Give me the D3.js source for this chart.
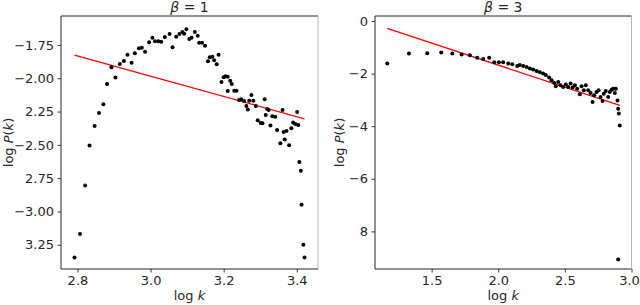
<!DOCTYPE html>
<html>
<head>
<meta charset="utf-8">
<script src="https://cdn.jsdelivr.net/npm/d3@7/dist/d3.min.js"></script>
<style>
  body { margin: 0; background: #fff; }
  text { font-family: "DejaVu Sans", sans-serif; fill: #262626; }
</style>
</head>
<body>
<svg id="chart"></svg>
<script>
// beta = 1 panel: log k, log P(k)
const logK1 = [2.792, 2.807, 2.821, 2.833, 2.847, 2.859, 2.871, 2.881, 2.893, 2.904,
  2.916, 2.927, 2.937, 2.948, 2.957, 2.968, 2.976, 2.985, 2.996, 3.005,
  3.012, 3.021, 3.029, 3.039, 3.052, 3.060, 3.070, 3.079, 3.087, 3.092,
  3.098, 3.106, 3.112, 3.121, 3.129, 3.133, 3.141, 3.149, 3.157, 3.162,
  3.169, 3.174, 3.181, 3.186, 3.194, 3.200, 3.205, 3.211, 3.211, 3.218,
  3.222, 3.229, 3.235, 3.242, 3.248, 3.256, 3.262, 3.266, 3.270, 3.276,
  3.281, 3.288, 3.293, 3.301, 3.306, 3.312, 3.315, 3.319, 3.323, 3.328,
  3.333, 3.341, 3.346, 3.355, 3.361, 3.364, 3.367, 3.372, 3.379, 3.385,
  3.390, 3.396, 3.401, 3.404, 3.407, 3.411, 3.413, 3.418, 3.421];
const logP1 = [-3.345, -3.170, -2.805, -2.505, -2.358, -2.260, -2.195, -2.043, -1.917, -1.995,
  -1.893, -1.870, -1.823, -1.883, -1.812, -1.775, -1.770, -1.800, -1.730, -1.695,
  -1.722, -1.722, -1.725, -1.690, -1.668, -1.767, -1.688, -1.668, -1.652, -1.665,
  -1.632, -1.705, -1.695, -1.652, -1.680, -1.733, -1.733, -1.755, -1.872, -1.842,
  -1.838, -1.865, -1.895, -1.823, -2.028, -1.992, -1.985, -1.988, -2.095, -2.018,
  -2.043, -2.093, -2.093, -2.163, -2.157, -2.170, -2.208, -2.235, -2.168, -2.125,
  -2.168, -2.208, -2.315, -2.335, -2.337, -2.157, -2.275, -2.230, -2.238, -2.355,
  -2.285, -2.288, -2.388, -2.487, -2.238, -2.403, -2.460, -2.395, -2.502, -2.375,
  -2.333, -2.343, -2.253, -2.350, -2.628, -2.695, -2.950, -3.250, -3.345];
const fit1 = { slope: -0.761, intercept: 0.299 };
const xTicks1 = [2.8, 3.0, 3.2, 3.4];
const xLabels1 = ["2.8", "3.0", "3.2", "3.4"];
const yTicks1 = [-1.75, -2.0, -2.25, -2.5, -2.75, -3.0, -3.25];
const yLabels1 = ["\u22121.75", "\u22122.00", "2.25", "\u22122.50", "2.75", "\u22123.00", "3.25"];

// beta = 3 panel
const logK3 = [1.167, 1.330, 1.467, 1.572, 1.655, 1.725, 1.787, 1.842, 1.887, 1.932,
  1.970, 2.005, 2.037, 2.075, 2.105, 2.142, 2.162, 2.187, 2.213, 2.237,
  2.262, 2.288, 2.312, 2.337, 2.357, 2.382, 2.400, 2.420, 2.432, 2.450,
  2.468, 2.487, 2.507, 2.525, 2.543, 2.558, 2.575, 2.592, 2.612, 2.625,
  2.642, 2.657, 2.675, 2.693, 2.708, 2.720, 2.738, 2.753, 2.768, 2.783,
  2.792, 2.807, 2.825, 2.837, 2.850, 2.862, 2.875, 2.882, 2.895, 2.900,
  2.905, 2.912, 2.900];
const logP3 = [-1.616, -1.234, -1.223, -1.196, -1.234, -1.272, -1.299, -1.402, -1.441, -1.402,
  -1.567, -1.567, -1.567, -1.616, -1.643, -1.708, -1.670, -1.708, -1.746, -1.807,
  -1.846, -1.899, -1.949, -1.998, -2.052, -2.151, -2.254, -2.358, -2.484, -2.319,
  -2.446, -2.510, -2.419, -2.510, -2.381, -2.533, -2.446, -2.572, -2.789, -2.484,
  -2.637, -2.446, -2.637, -2.740, -3.084, -2.828, -2.702, -2.637, -2.893, -3.045,
  -2.763, -2.663, -2.893, -2.702, -2.610, -2.572, -2.740, -2.572, -3.019, -3.336,
  -3.515, -3.974, -9.068];
const fit3 = { slope: -1.680, intercept: 1.681 };
const xTicks3 = [1.5, 2.0, 2.5, 3.0];
const xLabels3 = ["1.5", "2.0", "2.5", "3.0"];
const yTicks3 = [0, -2, -4, -6, -8];
const yLabels3 = ["0", "\u22122", "\u22124", "\u22126", "8"];

const panels = [
  { title: "1", xs: logK1, ys: logP1, fit: fit1, xDomain: [2.755, 3.458], yDomain: [-3.432, -1.5325],
    xTicks: xTicks1, xLabels: xLabels1, yTicks: yTicks1, yLabels: yLabels1,
    left: 61, right: 318, yLabelX: 9 },
  { title: "3", xs: logK3, ys: logP3, fit: fit3, xDomain: [1.075, 3.0], yDomain: [-9.43, 0.19],
    xTicks: xTicks3, xLabels: xLabels3, yTicks: yTicks3, yLabels: yLabels3,
    left: 375, right: 631.5, yLabelX: 340 }
];

const width = 640, height = 305;
const plotTop = 16, plotBottom = 269;

const svg = d3.select("#chart").attr("width", width).attr("height", height);

panels.forEach((p) => {
  const x = d3.scaleLinear().domain(p.xDomain).range([p.left, p.right]);
  const y = d3.scaleLinear().domain(p.yDomain).range([plotBottom, plotTop]);
  const g = svg.append("g");

  // fitted power-law line across the data range
  const [k0, k1] = d3.extent(p.xs);
  g.append("line")
    .attr("x1", x(k0)).attr("y1", y(p.fit.intercept + p.fit.slope * k0))
    .attr("x2", x(k1)).attr("y2", y(p.fit.intercept + p.fit.slope * k1))
    .style("stroke", "#ff0000")
    .style("stroke-width", 1.3);

  // points
  g.selectAll(".dot")
    .data(p.xs.map((k, i) => [k, p.ys[i]]))
    .enter()
    .append("circle")
    .attr("class", "dot")
    .attr("cx", (d) => x(d[0]))
    .attr("cy", (d) => y(d[1]))
    .attr("r", 2)
    .style("fill", "#000");

  // axes
  const xAxis = d3.axisBottom(x).tickValues(p.xTicks)
    .tickFormat((d, i) => p.xLabels[i]).tickSize(3.5).tickPadding(3.5).tickSizeOuter(0);
  const yAxis = d3.axisLeft(y).tickValues(p.yTicks)
    .tickFormat((d, i) => p.yLabels[i]).tickSize(3.5).tickPadding(3.5).tickSizeOuter(0);

  const gx = g.append("g").attr("transform", `translate(0,${plotBottom})`).call(xAxis);
  const gy = g.append("g").attr("transform", `translate(${p.left},0)`).call(yAxis);
  [gx, gy].forEach((a) => {
    a.select(".domain").remove();
    a.selectAll("line").style("stroke", "#262626").style("stroke-width", 0.9);
    a.selectAll("text").style("font-size", "13px").style("font-family", "'DejaVu Sans', sans-serif")
      .style("fill", "#262626");
  });
  // keep a label sitting on the page edge inside the window
  gx.selectAll(".tick text").attr("dx", (d) => (x(d) + 11 > width ? width - 11 - x(d) : 0));

  // frame
  g.append("path")
    .attr("d", `M${p.right},${plotTop}H${p.left}V${plotBottom}H${p.right}`)
    .style("fill", "none").style("stroke", "#262626").style("stroke-width", 1);
  g.append("line")
    .attr("x1", p.right).attr("x2", p.right).attr("y1", plotTop).attr("y2", plotBottom)
    .style("stroke", "#b5b5b5").style("stroke-width", 1);

  // title
  const t = g.append("text")
    .attr("x", (p.left + p.right) / 2).attr("y", 12)
    .attr("text-anchor", "middle").style("font-size", "14px");
  t.append("tspan").style("font-style", "italic").text("\u03b2");
  t.append("tspan").text(" = " + p.title);

  // x label
  const xl = g.append("text")
    .attr("x", (p.left + p.right) / 2).attr("y", 300)
    .attr("text-anchor", "middle").style("font-size", "13px");
  xl.append("tspan").text("log ");
  xl.append("tspan").style("font-style", "italic").text("k");

  // y label
  const yl = g.append("text")
    .attr("transform", `translate(${p.yLabelX + 4},${(plotTop + plotBottom) / 2}) rotate(-90)`)
    .attr("text-anchor", "middle").style("font-size", "13px");
  yl.append("tspan").text("log ");
  yl.append("tspan").style("font-style", "italic").text("P");
  yl.append("tspan").text("(");
  yl.append("tspan").style("font-style", "italic").text("k");
  yl.append("tspan").text(")");
});
</script>
</body>
</html>
